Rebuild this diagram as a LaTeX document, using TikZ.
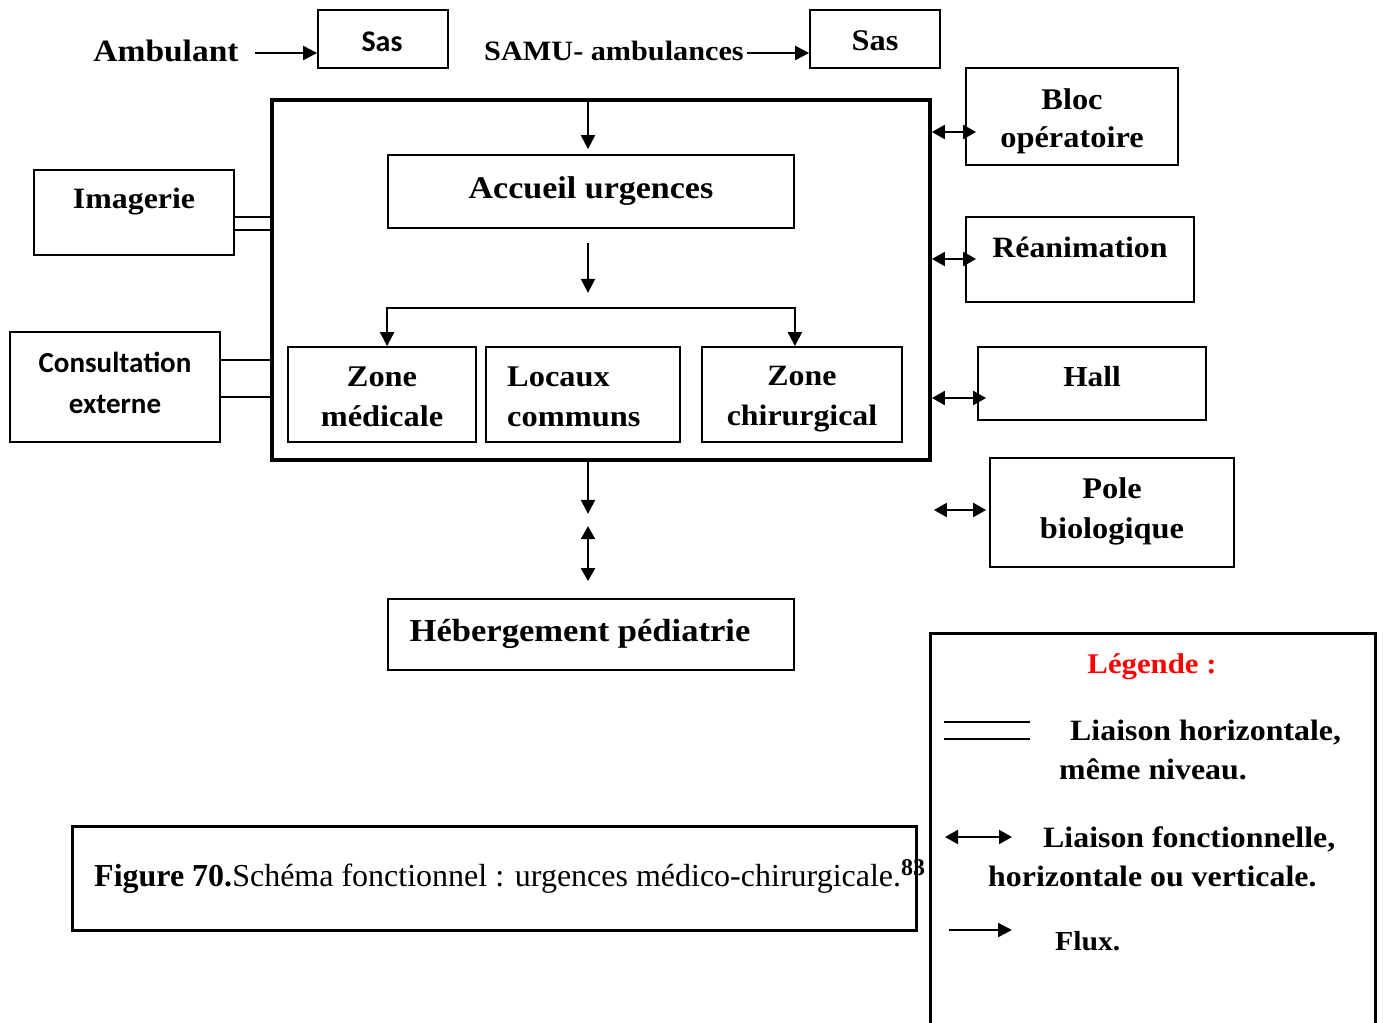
\documentclass[tikz,border=0pt]{standalone}
\usepackage{fontspec}
\setmainfont{Liberation Serif}
\newfontfamily\cam[FakeStretch=1.08]{Liberation Serif}
\newfontfamily\calib{Carlito}
\usetikzlibrary{arrows.meta}
\begin{document}
\begin{tikzpicture}[x=1pt,y=-1pt,
  box/.style={draw,line width=1.8pt,inner sep=0pt},
  lbl/.style={font={\fontsize{#1}{40}\selectfont\cam\bfseries},inner sep=0pt,align=center},
  lbl/.default=29,
  clbl/.style={font={\fontsize{#1}{41}\selectfont\calib\bfseries},inner sep=0pt,align=center},
  clbl/.default=29,
  flux/.style={line width=2.2pt,-{Triangle[length=14pt,width=14pt]}},
  biflux/.style={line width=2.2pt,{Triangle[length=13pt,width=14pt]}-{Triangle[length=13pt,width=14pt]}},
  hline/.style={line width=1.8pt}]
\useasboundingbox (0,0) rectangle (1383,1022);
% top row
\node[lbl=31] (amb) at (166,51) {Ambulant};
\node[box,minimum width=130pt,minimum height=58pt] (sas1) at (383,39) {};
\node[clbl=30] (sas1t) at (382,42) {Sas};
\node[lbl=28] (samu) at (614,51) {SAMU- ambulances};
\node[box,minimum width=130pt,minimum height=58pt] (sas2) at (875,39) {};
\node[lbl=30] (sas2t) at (875,41) {Sas};
\coordinate (a1) at (255,53);
\coordinate (a2) at (747,53);
\draw[flux] (a1) -- (a1 -| sas1.west);
\draw[flux] (a2) -- (a2 -| sas2.west);
% main box
\node[draw,line width=3.8pt,inner sep=0pt,minimum width=658pt,minimum height=360pt] (main) at (601,280) {};
\node[box,minimum width=406pt,minimum height=73pt] (accueil) at (591,191.5) {};
\node[lbl=31.5] (accueilt) at (591,191) {Accueil urgences};
\node[box,minimum width=188pt,minimum height=95pt] (zmed) at (382,394.5) {};
\node[lbl=30] (zmedt) at (382,397) {Zone\\médicale};
\node[box,minimum width=194pt,minimum height=95pt] (locaux) at (583,394.5) {};
\node[lbl=30,align=left,anchor=west] (locauxt) at (507,397) {Locaux\\communs};
\node[box,minimum width=200pt,minimum height=95pt] (zchir) at (802,394.5) {};
\node[lbl=29.5] (zchirt) at (802,399) {Zone\\chirurgical};
\coordinate (ax) at (588,0);
\coordinate (yb) at (0,308);
\draw[flux] (main.north -| ax) -- ([yshift=5pt]accueil.north -| ax);
\draw[flux] ([yshift=-14pt]accueil.south -| ax) -- ++(0,50);
\draw[flux] (accueil.south east |- yb) -- (accueil.south west |- yb) -- (accueil.south west |- zmed.north);
\draw[flux] (accueil.south west |- yb) -- (accueil.south east |- yb) -- (accueil.south east |- zchir.north);
% below
\node[box,minimum width=406pt,minimum height=71pt] (heberg) at (591,634.5) {};
\node[lbl=32] (hebergt) at (580,634) {Hébergement pédiatrie};
\draw[flux] (main.south -| ax) -- ++(0,52);
\draw[biflux] ([yshift=17pt]heberg.north -| ax) -- ++(0,-55);
% left
\node[box,minimum width=200pt,minimum height=85pt] (imag) at (134,212.5) {};
\node[lbl=29.5] (imagt) at (134,202) {Imagerie};
\node[box,minimum width=210pt,minimum height=110pt] (consult) at (115,387) {};
\node[clbl=29] (consultt) at (115,383) {Consultation\\externe};
\coordinate (i1) at (0,217);
\coordinate (i2) at (0,230);
\coordinate (c1) at (0,360);
\coordinate (c2) at (0,397);
\draw[hline] (imag.east |- i1) -- (main.west |- i1);
\draw[hline] (imag.east |- i2) -- (main.west |- i2);
\draw[hline] (consult.east |- c1) -- (main.west |- c1);
\draw[hline] (consult.east |- c2) -- (main.west |- c2);
% right
\node[box,minimum width=212pt,minimum height=97pt] (bloc) at (1072,116.5) {};
\node[lbl=30,font={\fontsize{30}{38}\selectfont\cam\bfseries}] (bloct) at (1072,121) {Bloc\\opératoire};
\node[box,minimum width=228pt,minimum height=85pt] (reanim) at (1080,259.5) {};
\node[lbl=29.5] (reanimt) at (1080,247) {Réanimation};
\node[box,minimum width=228pt,minimum height=73pt] (hall) at (1092,383.5) {};
\node[lbl=29] (hallt) at (1092,377) {Hall};
\node[box,minimum width=244pt,minimum height=109pt] (pole) at (1112,512.5) {};
\node[lbl=30] (polet) at (1112,511) {Pole\\biologique};
\coordinate (r1) at (0,132);
\coordinate (r2) at (0,259);
\coordinate (r3) at (0,398);
\coordinate (r4) at (0,510);
\draw[biflux] (main.east |- r1) -- ([xshift=11pt]bloc.west |- r1);
\draw[biflux] (main.east |- r2) -- ([xshift=11pt]reanim.west |- r2);
\draw[biflux] (main.east |- r3) -- ([xshift=9pt]hall.west |- r3);
\draw[biflux] ([xshift=2pt]main.east |- r4) -- ([xshift=-3pt]pole.west |- r4);
% caption
\node[draw,line width=3pt,inner sep=0pt,minimum width=844pt,minimum height=104pt] (caption) at (494,878) {};
\node[inner sep=0pt,anchor=west,font=\fontsize{32}{38}\selectfont] (captiont) at (94,877) {\textbf{Figure 70.}Schéma fonctionnel : urgences médico-chirurgicale.\raisebox{11pt}{\fontsize{24}{26}\selectfont\textbf{83}}};
% legend
\draw[line width=3pt] (930,1040) -- (930,633) -- (1375,633) -- (1375,1040);
\node[lbl=28.5,text=red] (legt) at (1152,667) {Légende :};
\coordinate (l1) at (944,722);
\coordinate (l2) at (944,739);
\draw[hline] (l1) -- ++(86,0);
\draw[hline] (l2) -- ++(86,0);
\node[lbl=29.5,anchor=west] (lh1) at (1070,733) {Liaison horizontale,};
\node[lbl=29.5,anchor=west] (lh2) at (1059,769) {même niveau.};
\coordinate (l3) at (945,837);
\draw[biflux] (l3) -- ++(67,0);
\node[lbl=29.5,anchor=west] (lf1) at (1043,839) {Liaison fonctionnelle,};
\node[lbl=29.5,anchor=west] (lf2) at (988,876) {horizontale ou verticale.};
\coordinate (l4) at (949,930);
\draw[flux] (l4) -- ++(63,0);
\node[lbl=27.5,anchor=west] (lfx) at (1055,941) {Flux.};
\end{tikzpicture}
\end{document}
